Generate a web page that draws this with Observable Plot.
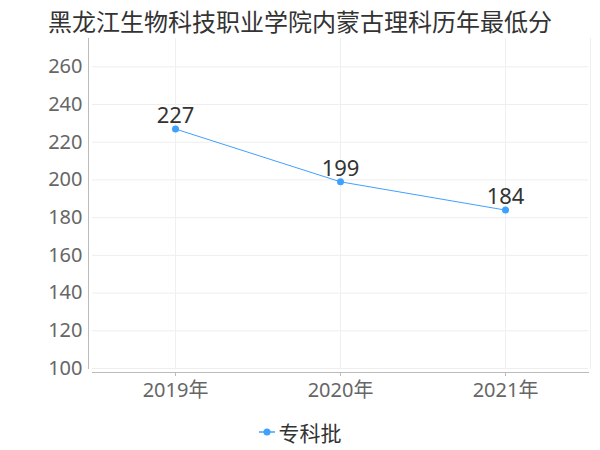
<!DOCTYPE html>
<html>
<head>
<meta charset="utf-8">
<script src="https://cdn.jsdelivr.net/npm/d3@7"></script>
<script src="https://cdn.jsdelivr.net/npm/@observablehq/plot@0.6"></script>
<style>
  body { margin: 0; background: #fff; font-family: "Noto Sans", "Noto Sans CJK SC", sans-serif; }
  #wrap { position: relative; width: 600px; height: 450px; overflow: hidden; }
  #title { position: absolute; left: 0; top: 1px; width: 600px; height: 40px; line-height: 40px; text-align: center; font-size: 24px; color: #333; font-family: "Noto Sans CJK SC", sans-serif; }
  #chart { position: absolute; left: 0; top: 38px; }
  #legend { position: absolute; left: 0; top: 416px; width: 600px; height: 32px; display: flex; justify-content: center; align-items: center; font-size: 21px; color: #333; font-family: "Noto Sans CJK SC", sans-serif; }
  #legend svg { margin-right: 4px; }
</style>
</head>
<body>
<div id="wrap">
  <div id="title">黑龙江生物科技职业学院内蒙古理科历年最低分</div>
  <div id="chart"></div>
  <div id="legend"></div>
</div>
<script>
const years = ["2019年", "2020年", "2021年"];
const scores = [227, 199, 184];
const yTicks = [100, 120, 140, 160, 180, 200, 220, 240, 260];
const seriesName = "专科批";
const lineColor = "#3fa1ff";

const data = years.map((y, i) => ({year: y, score: scores[i]}));

const plot = Plot.plot({
  width: 600,
  height: 372,
  marginTop: 0,
  marginBottom: 42,
  marginLeft: 92,
  marginRight: 12,
  style: {fontFamily: "'Noto Sans', 'Noto Sans CJK SC', sans-serif", background: "#fff"},
  x: {type: "point", domain: years, padding: 0.5, label: null},
  y: {domain: [100, 275], label: null},
  marks: [
    Plot.gridY(yTicks, {stroke: "#eeeeee", strokeOpacity: 1}),
    Plot.gridX(years, {stroke: "#f0f0f0", strokeOpacity: 1}),
    Plot.frame({anchor: "right", stroke: "#f0f0f0", dx: 2}),
    Plot.frame({anchor: "left", stroke: "#bbbbbb", dx: -4}),
    Plot.frame({anchor: "bottom", stroke: "#bbbbbb", dy: 4}),
    Plot.axisY(yTicks, {tickSize: 0, tickPadding: 10, fontSize: 20, fill: "#666", label: null}),
    Plot.axisX(years, {tickSize: 4, tickPadding: 6, dy: 4, fontSize: 20, fill: "#666", stroke: "#bbbbbb", label: null}),
    Plot.line(data, {x: "year", y: "score", stroke: lineColor, strokeWidth: 1}),
    Plot.dot(data, {x: "year", y: "score", r: 3.5, fill: lineColor, stroke: null}),
    Plot.text(data, {x: "year", y: "score", text: d => String(d.score), dy: -13, fontSize: 22, fill: "#333"})
  ]
});
document.getElementById("chart").appendChild(plot);

const legend = document.getElementById("legend");
legend.innerHTML = `<svg width="16" height="10"><line x1="0" y1="5" x2="16" y2="5" stroke="${lineColor}" stroke-width="1.5"/><circle cx="8" cy="5" r="3.5" fill="${lineColor}"/></svg><span>${seriesName}</span>`;
</script>
</body>
</html>
